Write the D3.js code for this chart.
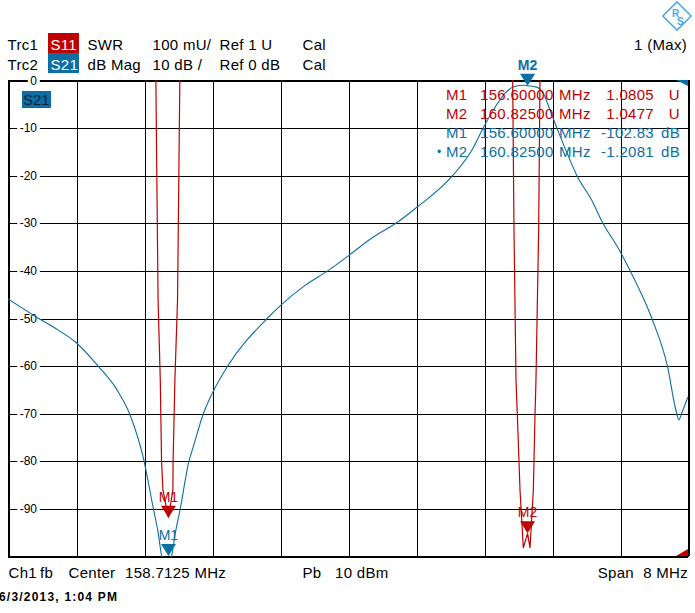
<!DOCTYPE html>
<html>
<head>
<meta charset="utf-8">
<script src="https://cdn.jsdelivr.net/npm/d3@7"></script>
<style>
  body { margin: 0; background: #fff; }
  text { font-family: "Liberation Sans", Arial, sans-serif; }
</style>
</head>
<body>
<div id="chart"></div>
<script>
var svgWidth = 695;
var svgHeight = 613;

var red = "#c00000";
var blue = "#0b6fa4";

// S21 (dB Mag) trace
var s21Freq = [154.7125, 155.065, 155.300, 155.509, 155.768, 155.991, 156.140, 156.306, 156.422, 156.478, 156.521,
  156.600, 156.638, 156.683, 156.740, 156.842, 156.881, 157.013, 157.108, 157.301, 157.768, 157.904,
  158.187, 158.481, 158.704, 159.010, 159.285, 159.504, 159.948, 160.171, 160.306, 160.422,
  160.559, 160.662, 160.780, 160.825, 160.930, 161.010, 161.089, 161.168, 161.324, 161.403,
  161.579, 161.709, 161.904, 162.030, 162.285, 162.469, 162.579, 162.606, 162.638, 162.7125];
var s21Db = [-46.0, -50.0, -52.5, -55.1, -60.0, -65.0, -70.0, -79.5, -90.0, -95.0, -100.0,
  -102.83, -100.0, -95.0, -90.0, -80.0, -77.7, -70.0, -66.1, -60.0, -50.0, -47.6,
  -43.4, -40.0, -37.1, -33.0, -30.0, -27.0, -20.0, -14.7, -10.0, -6.3,
  -2.8, -1.4, -1.1, -1.21, -1.5, -2.8, -6.3, -10.0, -16.8, -20.0,
  -25.2, -30.0, -35.7, -40.0, -50.0, -60.0, -70.0, -71.4, -70.0, -66.6];

// S11 (SWR) trace
var s11Freq = [154.7125, 156.383, 156.452, 156.478, 156.504, 156.519, 156.535, 156.600, 156.652, 156.655,
  156.676, 156.707, 156.734, 156.800, 160.600, 160.650, 160.665, 160.689, 160.704, 160.736,
  160.775, 160.825, 160.854, 160.893, 160.913, 160.924, 160.956, 160.971, 161.030, 162.7125];
var s11Swr = [6.0, 4.0, 2.0, 1.538, 1.37, 1.2, 1.139, 1.0805, 1.139, 1.2,
  1.37, 1.538, 2.0, 4.0, 4.0, 2.0, 1.691, 1.37, 1.30, 1.139,
  1.017, 1.0477, 1.017, 1.139, 1.30, 1.37, 1.691, 2.0, 4.0, 6.0];

var markerNames = ["M1", "M2"];
var markerFreq = [156.6, 160.825];
var markerSwr = [1.0805, 1.0477];
var markerDb = [-102.83, -1.2081];

var dbTicks = [0, -10, -20, -30, -40, -50, -60, -70, -80, -90];
var freqGrid = [154.7125, 155.5125, 156.3125, 157.1125, 157.9125, 158.7125, 159.5125, 160.3125, 161.1125, 161.9125, 162.7125];

var tableNames = ["M1", "M2", "M1", "M2"];
var tableFreq = ["156.60000", "160.82500", "156.60000", "160.82500"];
var tableValue = ["1.0805", "1.0477", "-102.83", "-1.2081"];
var tableUnit = ["U", "U", "dB", "dB"];

var svg = d3.select("#chart")
  .append("svg")
  .attr("width", svgWidth)
  .attr("height", svgHeight);

var plotLeft = 8, plotRight = 688, plotTop = 80, plotBottom = 556;

var xScale = d3.scaleLinear().domain([154.7125, 162.7125]).range([plotLeft, plotRight]);
var yDb = d3.scaleLinear().domain([-100, 0]).range([plotBottom, plotTop]);
var ySwr = d3.scaleLinear().domain([1, 2]).range([plotBottom, plotTop]);

// grid
svg.append("g")
  .attr("transform", `translate(0.5, ${plotBottom})`)
  .call(d3.axisBottom(xScale).tickValues(freqGrid).tickSize(-(plotBottom - plotTop)).tickFormat(""))
  .call(g => g.select(".domain").remove())
  .selectAll("line").attr("stroke", "#000").attr("shape-rendering", "crispEdges");

svg.append("g")
  .attr("transform", `translate(${plotLeft}, 0.5)`)
  .call(d3.axisLeft(yDb).tickValues(dbTicks.concat([-100])).tickSize(-(plotRight - plotLeft)).tickFormat(""))
  .call(g => g.select(".domain").remove())
  .selectAll("line").attr("stroke", "#000").attr("shape-rendering", "crispEdges");

svg.append("rect")
  .attr("x", plotLeft + 0.5).attr("y", plotTop + 0.5)
  .attr("width", plotRight - plotLeft).attr("height", plotBottom - plotTop)
  .attr("fill", "none").attr("stroke", "#000")
  .attr("shape-rendering", "crispEdges");

// y tick labels with a white gap in the grid line
var tickG = svg.append("g");
dbTicks.forEach(function(v) {
  var t = tickG.append("text")
    .attr("x", 37).attr("y", yDb(v) + 4.5)
    .attr("text-anchor", "end")
    .attr("font-size", "12px")
    .text(v);
  var bb = t.node().getBBox();
  tickG.insert("rect", "text")
    .attr("x", bb.x - 2.5).attr("y", bb.y + 2)
    .attr("width", bb.width + 5).attr("height", bb.height - 4)
    .attr("fill", "#fff");
});

// traces
svg.append("clipPath").attr("id", "plotClip")
  .append("rect").attr("x", plotLeft).attr("y", plotTop)
  .attr("width", plotRight - plotLeft + 1).attr("height", plotBottom - plotTop + 1);

var s21Line = d3.line()
  .x((d, i) => xScale(s21Freq[i]))
  .y(d => yDb(d))
  .curve(d3.curveMonotoneX);

var s11Line = d3.line()
  .x((d, i) => xScale(s11Freq[i]))
  .y(d => ySwr(d));

var traces = svg.append("g").attr("clip-path", "url(#plotClip)");

traces.append("path")
  .datum(s21Db)
  .attr("d", s21Line)
  .attr("fill", "none").attr("stroke", blue).attr("stroke-width", 1.1);

traces.append("path")
  .datum(s11Swr)
  .attr("d", s11Line)
  .attr("fill", "none").attr("stroke", red).attr("stroke-width", 1.2);

// S21 label in the plot
svg.append("rect").attr("x", 22).attr("y", 91).attr("width", 29).attr("height", 17).attr("fill", blue);
svg.append("text").attr("x", 23).attr("y", 105).attr("font-size", "15px").attr("fill", "#0a2236").text("S21");

// markers
function tri(x, y) {
  return `M${x - 7.5},${y - 12}L${x + 7.5},${y - 12}L${x},${y}Z`;
}
markerNames.forEach(function(name, i) {
  var mx = xScale(markerFreq[i]);
  var ySw = Math.max(plotTop, Math.min(plotBottom, ySwr(markerSwr[i])));
  var yD = Math.max(plotTop, Math.min(plotBottom, yDb(markerDb[i])));

  svg.append("path").attr("d", tri(mx, ySw)).attr("fill", red);
  svg.append("text").attr("x", mx).attr("y", ySw - 16)
    .attr("text-anchor", "middle").attr("font-size", "14px").attr("fill", red).text(name);

  svg.append("path").attr("d", tri(mx, yD)).attr("fill", blue);
  svg.append("text").attr("x", mx).attr("y", yD - 16)
    .attr("text-anchor", "middle").attr("font-size", "14px").attr("fill", blue)
    .attr("font-weight", i === 1 ? "bold" : "normal")
    .text(name);
});

// scale wedges at right edge
svg.append("path").attr("d", `M${plotRight - 12},${plotTop}L${plotRight},${plotTop}L${plotRight},${plotTop + 6}Z`).attr("fill", blue);
svg.append("path").attr("d", `M${plotRight - 12},${plotBottom}L${plotRight},${plotBottom}L${plotRight},${plotBottom - 7}Z`).attr("fill", red);

// marker table
var table = svg.append("g").attr("font-size", "15px").attr("letter-spacing", "0.3px");
var rowY = [100, 118.5, 138, 156.5];
tableNames.forEach(function(name, i) {
  var c = i < 2 ? red : blue;
  table.append("text").attr("x", 446).attr("y", rowY[i]).attr("fill", c).text(name);
  table.append("text").attr("x", 480).attr("y", rowY[i]).attr("fill", c).text(tableFreq[i]);
  table.append("text").attr("x", 559).attr("y", rowY[i]).attr("fill", c).text("MHz");
  table.append("text").attr("x", 654).attr("y", rowY[i]).attr("fill", c).attr("text-anchor", "end").text(tableValue[i]);
  table.append("text").attr("x", 680).attr("y", rowY[i]).attr("fill", c).attr("text-anchor", "end").text(tableUnit[i]);
});
table.append("text").attr("x", 437).attr("y", 156).attr("fill", blue).attr("font-size", "12px").text("\u2022");

// header
var head = svg.append("g").attr("font-size", "15px").attr("letter-spacing", "0.3px");
head.append("rect").attr("x", 48).attr("y", 33).attr("width", 31).attr("height", 20).attr("fill", red);
head.append("rect").attr("x", 48).attr("y", 53).attr("width", 31).attr("height", 20).attr("fill", blue);
var row1 = [["Trc1", 7.5], ["SWR", 87.5], ["100 mU/", 152.5], ["Ref 1 U", 219.5], ["Cal", 302.5]];
var row2 = [["Trc2", 7.5], ["dB Mag", 87.5], ["10 dB /", 152.5], ["Ref 0 dB", 219.5], ["Cal", 302.5]];
row1.forEach(d => head.append("text").attr("x", d[1]).attr("y", 49.5).text(d[0]));
row2.forEach(d => head.append("text").attr("x", d[1]).attr("y", 69.5).text(d[0]));
head.append("text").attr("x", 50.5).attr("y", 49.5).attr("fill", "#fff").text("S11");
head.append("text").attr("x", 50.5).attr("y", 69.5).attr("fill", "#fff").text("S21");
head.append("text").attr("x", 687).attr("y", 49.5).attr("text-anchor", "end").text("1 (Max)");

// logo
var logo = svg.append("g").attr("transform", "translate(677,16)");
logo.append("rect").attr("x", -10).attr("y", -10).attr("width", 20).attr("height", 20)
  .attr("transform", "rotate(45)").attr("fill", "#fff").attr("stroke", "#4aa6e4").attr("stroke-width", 1.5);
logo.append("text").attr("x", -5).attr("y", 1).attr("font-size", "10px").attr("fill", "#4aa6e4").attr("font-weight", "bold").text("R");
logo.append("text").attr("x", 0).attr("y", 9).attr("font-size", "10px").attr("fill", "#4aa6e4").attr("font-weight", "bold").text("S");

// footer
var foot = svg.append("g").attr("font-size", "15px").attr("letter-spacing", "0.3px");
[["Ch1", 8.5], ["fb", 40], ["Center", 68.5], ["158.7125 MHz", 125], ["Pb", 302.5], ["10 dBm", 335]]
  .forEach(d => foot.append("text").attr("x", d[1]).attr("y", 578).text(d[0]));
foot.append("text").attr("x", 634).attr("y", 578).attr("text-anchor", "end").text("Span");
foot.append("text").attr("x", 688).attr("y", 578).attr("text-anchor", "end").text("8 MHz");

svg.append("text").attr("x", -1).attr("y", 600.5)
  .attr("font-size", "12px").attr("font-weight", "bold").attr("letter-spacing", "1.2px")
  .text("6/3/2013, 1:04 PM");
</script>
</body>
</html>
